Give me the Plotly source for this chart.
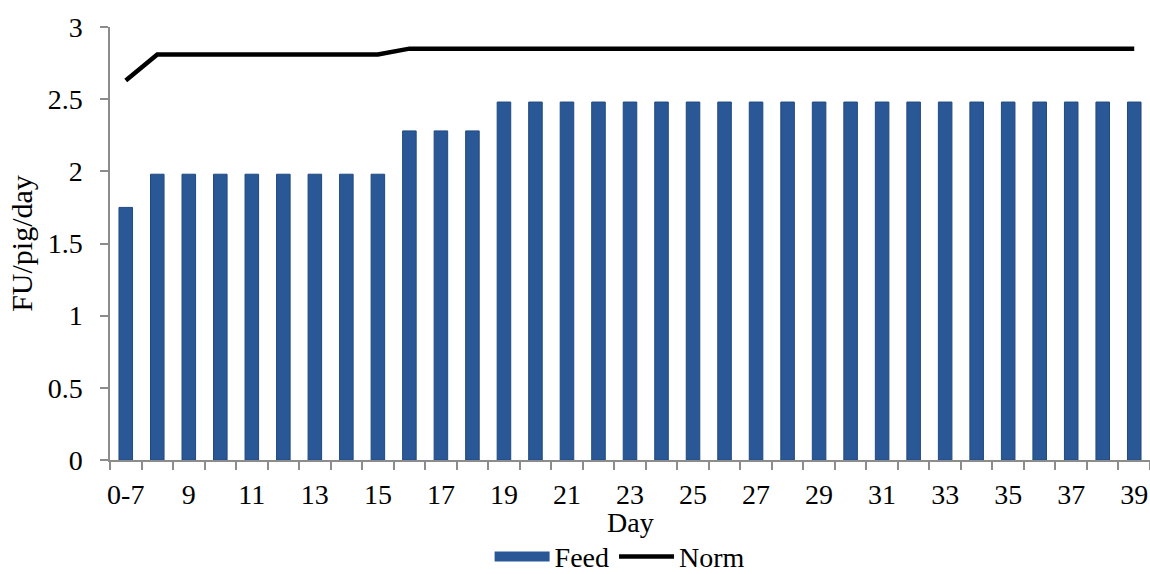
import plotly.graph_objects as go

categories = ["0-7"] + [str(d) for d in range(8, 40)]
feed = [1.75] + [1.98] * 8 + [2.28] * 3 + [2.48] * 21
norm = [2.63] + [2.81] * 8 + [2.85] * 24
x_title = "Day"
y_title = "FU/pig/day"

idx = list(range(len(categories)))
font = "Liberation Serif"
fs = 28
bar_color = "#2A5896"

fig = go.Figure()
fig.add_trace(go.Bar(
    x=idx, y=feed, name="Feed", showlegend=False,
    marker=dict(color=bar_color, line=dict(color="#1F4A80", width=1)),
))
# legend swatch for the bars (wide rectangle like the reference)
fig.add_trace(go.Scatter(
    x=[None], y=[None], name="Feed", mode="lines",
    line=dict(color=bar_color, width=18),
))
fig.add_trace(go.Scatter(
    x=idx, y=norm, name="Norm", mode="lines",
    line=dict(color="black", width=4.5),
))

fig.update_layout(
    width=1150, height=574,
    margin=dict(l=110, r=0, t=27, b=114, autoexpand=False),
    paper_bgcolor="white", plot_bgcolor="white",
    font=dict(family=font, size=fs, color="black"),
    bargap=0.57,
    showlegend=True,
    legend=dict(orientation="h", x=0.49, xanchor="center",
                yref="container", y=0.03, yanchor="middle",
                font=dict(family=font, size=fs), itemwidth=55, tracegroupgap=0),
    xaxis=dict(
        range=[-0.5, len(categories) - 0.5],
        tickmode="array", tickvals=idx[::2], ticktext=categories[::2],
        ticks="", showline=True, linecolor="#8c8c8c", linewidth=1.5,
        showgrid=False, zeroline=False, ticklabelstandoff=9,
        minor=dict(tickmode="linear", tick0=-0.5, dtick=1, ticks="outside",
                   ticklen=8, tickcolor="#8c8c8c", tickwidth=1.5, showgrid=False),
        tickfont=dict(family=font, size=fs),
    ),
    yaxis=dict(
        range=[0, 3], dtick=0.5,
        ticks="outside", ticklen=8, tickcolor="#8c8c8c", tickwidth=1.5,
        showline=True, linecolor="#8c8c8c", linewidth=1.5,
        showgrid=False, zeroline=False, ticklabelstandoff=12,
        title=dict(text=y_title, standoff=6, font=dict(family=font, size=30)),
        tickfont=dict(family=font, size=fs),
    ),
    annotations=[dict(
        text=x_title, xref="paper", yref="paper", x=0.5, y=-0.145,
        xanchor="center", yanchor="middle", showarrow=False,
        font=dict(family=font, size=fs, color="black"),
    )],
)

fig.write_html(
    "out.html",
    config={"displayModeBar": False},
    post_script="document.body.style.margin='0';document.body.style.overflow='hidden';",
)
